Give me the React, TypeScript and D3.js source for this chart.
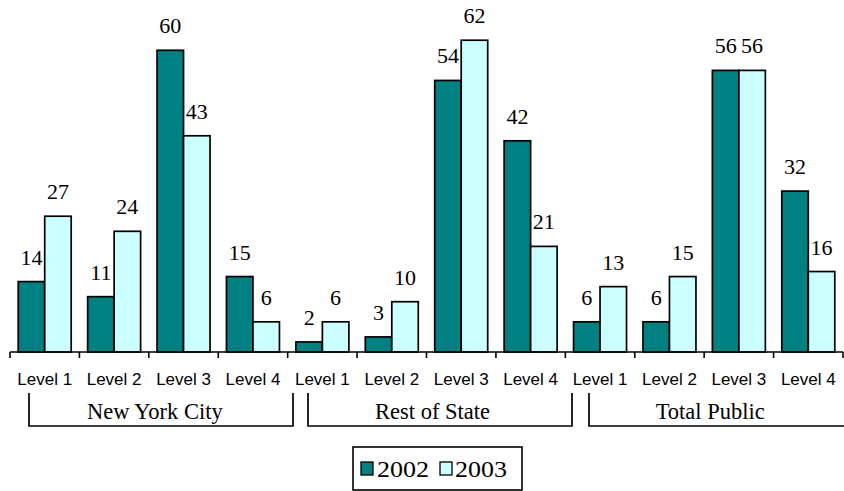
import React from "react";
import * as d3 from "d3";

const groups = ["New York City", "Rest of State", "Total Public"];
const levels = ["Level 1", "Level 2", "Level 3", "Level 4"];
const series = ["2002", "2003"];
const values2002 = [14, 11, 60, 15, 2, 3, 54, 42, 6, 6, 56, 32];
const values2003 = [27, 24, 43, 6, 6, 10, 62, 21, 13, 15, 56, 16];
const colors = ["#008080", "#CCFFFF"];

const W = 844;
const H = 491;
const serif = "'Liberation Serif', 'Times New Roman', serif";
const sans = "'Liberation Sans', Arial, sans-serif";

export default function App() {
  const cats = d3.range(groups.length * levels.length);
  const x = d3.scaleBand<number>().domain(cats).range([10, 843]).paddingInner(0).paddingOuter(0);
  const y = d3.scaleLinear().domain([0, 70]).range([352, 0]);
  const inner = d3.scaleBand<string>().domain(series).range([0, x.bandwidth()]).paddingInner(0).paddingOuter(0.31);
  const data = [values2002, values2003];
  const bw = inner.bandwidth();
  const groupW = x.bandwidth() * levels.length;
  const bracketLeft = [29, 308, 589];

  return (
    <svg width={W} height={H} style={{ position: "absolute", left: 0, top: 0, background: "#fff" }}>
      {cats.map((c) =>
        series.map((s, si) => {
          const v = data[si][c];
          const bx = (x(c) as number) + (inner(s) as number);
          return (
            <g key={c + "-" + s}>
              <rect x={bx} y={y(v)} width={bw} height={y(0) - y(v)} fill={colors[si]} stroke="#000" strokeWidth={1.7} />
              <text x={bx + bw / 2} y={y(v) - 17} textAnchor="middle" fontFamily={serif} fontSize={22} fill="#000">
                {v}
              </text>
            </g>
          );
        })
      )}
      <line x1={10} x2={843} y1={352} y2={352} stroke="#000" strokeWidth={1.6} />
      {d3.range(cats.length + 1).map((i) => {
        const tx = 10 + i * x.bandwidth();
        return <line key={"t" + i} x1={tx} x2={tx} y1={352} y2={358} stroke="#000" strokeWidth={1.6} />;
      })}
      {cats.map((c) => (
        <text key={"l" + c} x={(x(c) as number) + x.bandwidth() / 2} y={385} textAnchor="middle" fontFamily={sans} fontSize={17} fill="#000">
          {levels[c % levels.length]}
        </text>
      ))}
      {groups.map((g, gi) => {
        const gx = 10 + gi * groupW;
        const x1 = bracketLeft[gi];
        const x2 = x1 + 264;
        return (
          <g key={g}>
            <path d={`M${x1},393 V426 H${x2} V393`} fill="none" stroke="#000" strokeWidth={1.7} />
            <text x={gx + groupW / 2 + 6} y={419} textAnchor="middle" fontFamily={serif} fontSize={22.5} fill="#000">
              {g}
            </text>
          </g>
        );
      })}
      <g>
        <rect x={353} y={447} width={169} height={43} fill="#fff" stroke="#000" strokeWidth={1.6} />
        {series.map((s, si) => (
          <g key={"lg" + s}>
            <rect x={361 + si * 79} y={462} width={12} height={13} fill={colors[si]} stroke="#000" strokeWidth={1.3} />
            <text x={377 + si * 78} y={476.5} fontFamily={serif} fontSize={24} textLength={52} lengthAdjust="spacingAndGlyphs" fill="#000">
              {s}
            </text>
          </g>
        ))}
      </g>
    </svg>
  );
}
